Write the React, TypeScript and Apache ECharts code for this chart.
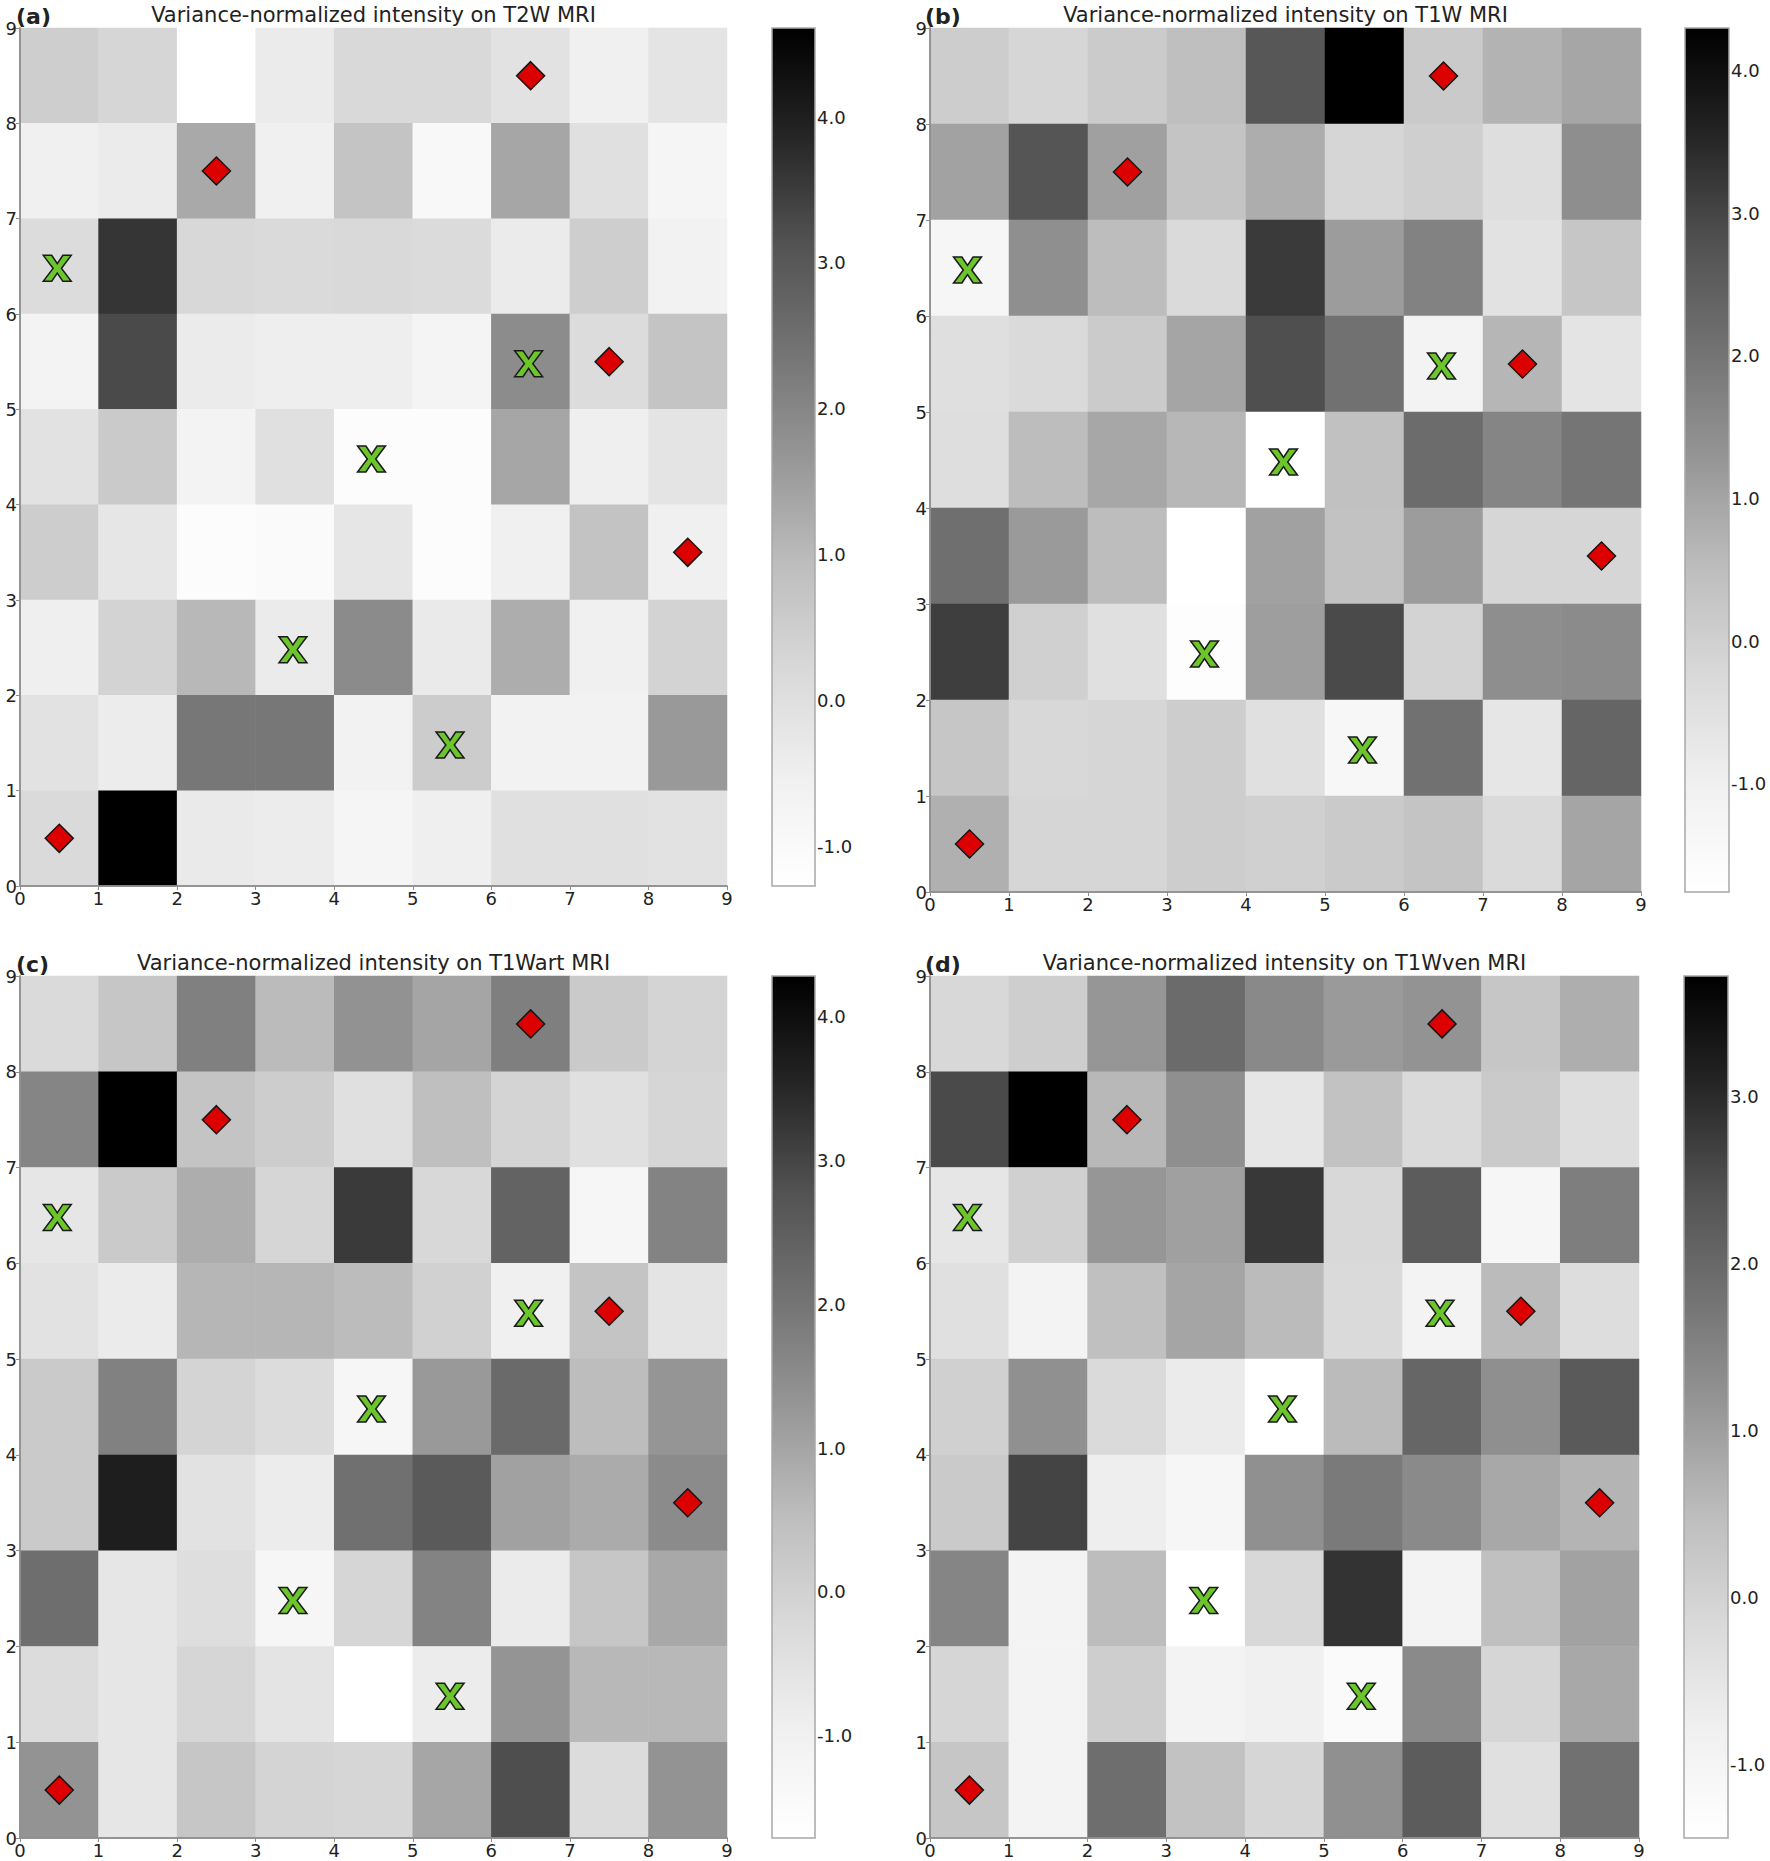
import React, { useEffect, useRef } from "react";
import * as echarts from "echarts";

// ---------- data ----------
const xCategories = ["0", "1", "2", "3", "4", "5", "6", "7", "8"];
const yCategories = ["0", "1", "2", "3", "4", "5", "6", "7", "8"];

const titles = [
  "Variance-normalized intensity on T2W MRI",
  "Variance-normalized intensity on T1W MRI",
  "Variance-normalized intensity on T1Wart MRI",
  "Variance-normalized intensity on T1Wven MRI",
];
const panelLabels = ["(a)", "(b)", "(c)", "(d)"];

// rows listed from top (y = 8..9) to bottom (y = 0..1), columns x = 0..8
const t2wValues = [
  [0.48, 0.28, -1.27, -0.38, 0.2, 0.2, -0.09, -0.54, -0.15],
  [-0.54, -0.38, 1.31, -0.54, 0.75, -0.93, 1.37, -0.02, -0.78],
  [0.11, 3.62, 0.22, 0.17, 0.2, 0.14, -0.38, 0.48, -0.63],
  [-0.68, 3.27, -0.38, -0.47, -0.47, -0.73, 1.88, 0.11, 0.75],
  [-0.09, 0.59, -0.68, -0.02, -1.12, -1.12, 1.37, -0.51, -0.15],
  [0.52, -0.22, -1.12, -1.02, -0.22, -1.12, -0.54, 0.78, -0.54],
  [-0.51, 0.36, 1.03, -0.38, 1.9, -0.34, 1.23, -0.54, 0.36],
  [-0.09, -0.41, 2.32, 2.32, -0.63, 0.54, -0.63, -0.63, 1.61],
  [0.17, 4.61, -0.34, -0.41, -0.78, -0.51, -0.02, -0.02, -0.09],
];
const t1wValues = [
  [0.08, -0.17, 0.14, 0.46, 2.68, 4.3, 0.16, 0.71, 0.96],
  [1.04, 2.72, 1.08, 0.32, 0.82, -0.17, 0.03, -0.41, 1.44],
  [-1.31, 1.42, 0.51, -0.28, 3.19, 1.15, 1.7, -0.54, 0.27],
  [-0.44, -0.28, 0.14, 0.98, 2.83, 2.08, -1.15, 0.65, -0.61],
  [-0.41, 0.51, 0.94, 0.63, -1.76, 0.4, 2.19, 1.64, 1.99],
  [2.12, 1.19, 0.51, -1.76, 1.06, 0.38, 1.15, -0.17, -0.17],
  [3.12, 0.0, -0.47, -1.66, 1.11, 2.92, -0.08, 1.44, 1.51],
  [0.27, -0.22, -0.17, 0.08, -0.47, -1.35, 2.08, -0.67, 2.35],
  [0.77, -0.17, -0.17, 0.08, 0.0, 0.16, 0.32, -0.28, 0.98],
];
const t1wartValues = [
  [-0.24, 0.3, 1.76, 0.57, 1.37, 1.0, 1.78, 0.19, -0.08],
  [1.65, 4.28, 0.35, 0.11, -0.44, 0.48, -0.08, -0.44, -0.13],
  [-0.64, 0.19, 0.84, -0.13, 3.18, -0.19, 2.4, -1.26, 1.69],
  [-0.51, -0.8, 0.67, 0.67, 0.55, 0.0, -0.96, 0.35, -0.57],
  [0.19, 1.73, -0.08, -0.31, -1.26, 1.22, 2.24, 0.54, 1.31],
  [0.19, 3.67, -0.51, -0.83, 2.1, 2.6, 1.08, 0.88, 1.52],
  [2.15, -0.64, -0.37, -1.26, -0.13, 1.69, -0.8, 0.3, 0.94],
  [-0.31, -0.64, -0.13, -0.57, -1.71, -0.83, 1.33, 0.63, 0.63],
  [1.35, -0.64, 0.3, -0.08, -0.13, 0.98, 2.85, -0.31, 1.35],
];
const t1wvenValues = [
  [-0.13, 0.1, 1.14, 1.94, 1.38, 1.07, 1.2, 0.29, 0.74],
  [2.54, 3.72, 0.58, 1.27, -0.52, 0.38, -0.18, 0.2, -0.29],
  [-0.52, 0.06, 1.14, 0.97, 2.8, -0.13, 2.23, -1.05, 1.58],
  [-0.35, -0.92, 0.43, 0.89, 0.53, -0.18, -0.92, 0.53, -0.26],
  [0.06, 1.25, -0.18, -0.66, -1.44, 0.53, 2.04, 1.27, 2.28],
  [0.2, 2.63, -0.74, -1.05, 1.25, 1.66, 1.36, 0.85, 0.64],
  [1.45, -0.92, 0.49, -1.44, -0.13, 2.87, -0.92, 0.43, 0.94],
  [-0.08, -0.92, 0.1, -0.92, -0.8, -1.22, 1.36, -0.08, 0.85],
  [0.29, -0.92, 1.88, 0.38, -0.08, 1.25, 2.23, -0.35, 1.83],
];

const colorRanges = [
  [-1.27, 4.61],
  [-1.76, 4.3],
  [-1.71, 4.28],
  [-1.44, 3.72],
];
const colorbarTicks = [
  [-1, 0, 1, 2, 3, 4],
  [-1, 0, 1, 2, 3, 4],
  [-1, 0, 1, 2, 3, 4],
  [-1, 0, 1, 2, 3],
];

const diamondPoints = [
  [0.5, 0.5],
  [2.5, 7.5],
  [6.5, 8.5],
  [7.5, 5.5],
  [8.5, 3.5],
];
const crossPoints = [
  [0.5, 6.5],
  [6.5, 5.5],
  [4.5, 4.5],
  [3.5, 2.5],
  [5.5, 1.5],
];

const allValues = [t2wValues, t1wValues, t1wartValues, t1wvenValues];

// ---------- layout / style ----------
const layout = [
  { left: 20, top: 28, width: 707, height: 858, cbLeft: 772, cbWidth: 43, titleY: 15, labelX: 16 },
  { left: 930, top: 28, width: 711, height: 864, cbLeft: 1685, cbWidth: 44, titleY: 15, labelX: 925 },
  { left: 20, top: 976, width: 707, height: 862, cbLeft: 772, cbWidth: 43, titleY: 963, labelX: 16 },
  { left: 930, top: 976, width: 709, height: 862, cbLeft: 1684, cbWidth: 44, titleY: 963, labelX: 925 },
];

const GREYS = ["#ffffff", "#f0f0f0", "#d9d9d9", "#bdbdbd", "#969696", "#737373", "#525252", "#252525", "#000000"];
const FONT = "DejaVu Sans";
const TEXT = "#222222";
const SPINE = "#8f8f8f";
const TICK_FONT = 18;
const CROSS_PATH =
  "path://M0,0 L30,0 L50,32 L70,0 L100,0 L65,50 L100,100 L70,100 L50,68 L30,100 L0,100 L35,50 Z";

function buildOption() {
  const grid: any[] = [];
  const xAxis: any[] = [];
  const yAxis: any[] = [];
  const heatSeries: any[] = [];
  const otherSeries: any[] = [];
  const visualMap: any[] = [];
  const graphic: any[] = [];

  const lineStyle = { color: SPINE, width: 1.5 };

  allValues.forEach((rows, i) => {
    const L = layout[i];
    const [vmin, vmax] = colorRanges[i];
    grid.push({ left: L.left, top: L.top, width: L.width, height: L.height });
    grid.push({ left: L.cbLeft, top: L.top, width: L.cbWidth, height: L.height });

    const g = 2 * i;
    xAxis.push({
      type: "category", gridIndex: g, data: xCategories, position: "top", boundaryGap: true,
      axisLine: { show: true, lineStyle }, axisTick: { show: false }, axisLabel: { show: false },
      splitLine: { show: false }, z: 10,
    });
    xAxis.push({
      type: "value", gridIndex: g, min: 0, max: 9, interval: 1, position: "bottom",
      axisLine: { show: true, lineStyle }, axisTick: { show: true, length: 4, lineStyle: { color: SPINE } },
      axisLabel: { fontSize: TICK_FONT, fontFamily: FONT, color: TEXT, margin: 3 },
      splitLine: { show: false }, z: 10,
    });
    xAxis.push({ type: "value", gridIndex: g + 1, min: 0, max: 1, show: false });

    yAxis.push({
      type: "category", gridIndex: g, data: yCategories, position: "right", boundaryGap: true,
      axisLine: { show: true, lineStyle }, axisTick: { show: false }, axisLabel: { show: false },
      splitLine: { show: false }, z: 10,
    });
    yAxis.push({
      type: "value", gridIndex: g, min: 0, max: 9, interval: 1, position: "left",
      axisLine: { show: true, lineStyle }, axisTick: { show: true, length: 4, lineStyle: { color: SPINE } },
      axisLabel: { fontSize: TICK_FONT, fontFamily: FONT, color: TEXT, margin: 3 },
      splitLine: { show: false }, z: 10,
    });
    yAxis.push({
      type: "value", gridIndex: g + 1, min: vmin, max: vmax, position: "right",
      axisLine: { show: false },
      axisTick: { show: true, length: 4, lineStyle: { color: SPINE }, customValues: colorbarTicks[i] },
      axisLabel: {
        fontSize: TICK_FONT, fontFamily: FONT, color: TEXT, margin: 2,
        customValues: colorbarTicks[i],
        formatter: (v: number) => v.toFixed(1),
      },
      splitLine: { show: false },
    });

    const data: any[] = [];
    rows.forEach((row, r) => {
      row.forEach((v, c) => {
        data.push([c, rows.length - 1 - r, v]);
      });
    });

    heatSeries.push({
      type: "heatmap", xAxisIndex: 3 * i, yAxisIndex: 3 * i, data,
      emphasis: { disabled: true }, silent: true, progressive: 0,
      itemStyle: { borderWidth: 0 },
    });

    visualMap.push({
      type: "continuous", show: false, seriesIndex: i, dimension: 2,
      min: vmin, max: vmax, inRange: { color: GREYS },
    });

    otherSeries.push({
      type: "custom", xAxisIndex: 3 * i + 2, yAxisIndex: 3 * i + 2, silent: true,
      data: [[0, vmin, 1, vmax]],
      renderItem: (params: any, api: any) => {
        const p0 = api.coord([api.value(0), api.value(1)]);
        const p1 = api.coord([api.value(2), api.value(3)]);
        return {
          type: "rect",
          shape: { x: p0[0], y: p1[1], width: p1[0] - p0[0], height: p0[1] - p1[1] },
          style: {
            fill: new echarts.graphic.LinearGradient(
              0, 1, 0, 0,
              GREYS.map((c, k) => ({ offset: k / (GREYS.length - 1), color: c }))
            ),
            stroke: "#a8a8a8",
            lineWidth: 1.5,
          },
        };
      },
    });

    otherSeries.push({
      type: "scatter", xAxisIndex: 3 * i + 1, yAxisIndex: 3 * i + 1, silent: true,
      data: diamondPoints, symbol: "diamond", symbolSize: 28, z: 20,
      itemStyle: { color: "#dd0000", borderColor: "#151515", borderWidth: 1.5, opacity: 1 },
    });
    otherSeries.push({
      type: "scatter", xAxisIndex: 3 * i + 1, yAxisIndex: 3 * i + 1, silent: true,
      data: crossPoints, symbol: CROSS_PATH, symbolSize: [28, 26], symbolOffset: [-2, 2], z: 20,
      itemStyle: { color: "#6cc62b", borderColor: "#1a1a1a", borderWidth: 1.5, opacity: 1 },
    });

    graphic.push({
      type: "text", x: L.left + L.width / 2, y: L.titleY, z: 100,
      style: {
        text: titles[i], fontSize: 21, fontFamily: FONT, fill: TEXT,
        textAlign: "center", textVerticalAlign: "middle", align: "center", verticalAlign: "middle",
      },
    });
    graphic.push({
      type: "text", x: L.labelX, y: L.titleY + 1, z: 100,
      style: {
        text: panelLabels[i], fontSize: 22, fontWeight: "bold", fontFamily: FONT, fill: TEXT,
        textAlign: "left", textVerticalAlign: "middle", align: "left", verticalAlign: "middle",
      },
    });
  });

  return {
    animation: false,
    backgroundColor: "#ffffff",
    grid,
    xAxis,
    yAxis,
    visualMap,
    series: [...heatSeries, ...otherSeries],
    graphic,
  };
}

export default function App() {
  const ref = useRef<HTMLDivElement>(null);
  useEffect(() => {
    document.body.style.margin = "0";
    if (!ref.current) return;
    const chart = echarts.init(ref.current, undefined, { renderer: "svg" });
    chart.setOption(buildOption() as any);
    return () => {
      chart.dispose();
    };
  }, []);
  return <div ref={ref} style={{ width: 1770, height: 1861 }} />;
}
